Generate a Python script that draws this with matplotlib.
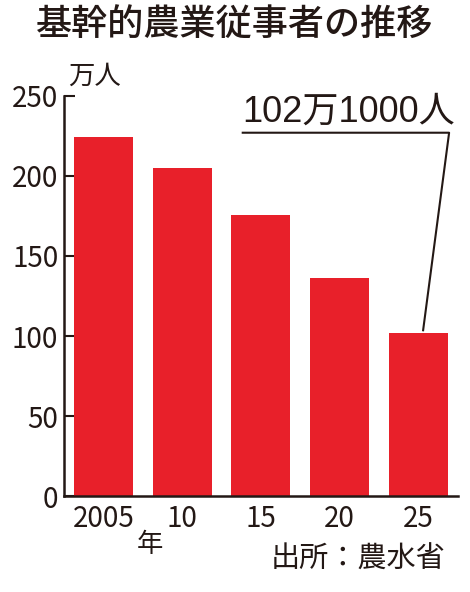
import matplotlib.pyplot as plt

plt.rcParams['font.family'] = ['Noto Sans CJK JP', 'DejaVu Sans']

years = ['2005', '10', '15', '20', '25']
workers = [224.1, 205.1, 175.4, 136.3, 102.1]  # 万人
y_ticks = [0, 50, 100, 150, 200, 250]
bar_color = '#E8202A'

fig = plt.figure(figsize=(4.70, 5.92), dpi=100)
ax = fig.add_axes([0.136, 0.162, 0.838, 0.676])

x = range(len(years))
ax.bar(x, workers, width=0.75, color=bar_color, zorder=2)

ax.set_xlim(-0.5, 4.5)
ax.set_ylim(0, 250)
ax.set_yticks(y_ticks)
ax.set_xticks(list(x))
ax.set_xticklabels(years)

for side in ['top', 'right']:
    ax.spines[side].set_visible(False)
for side in ['left', 'bottom']:
    ax.spines[side].set_linewidth(1.8)
    ax.spines[side].set_color('#231815')

ax.tick_params(axis='y', direction='in', length=8, width=1.5, labelsize=20,
               colors='#231815', pad=4)
ax.tick_params(axis='x', length=0, labelsize=20, colors='#231815', pad=6)

# title and unit labels
fig.text(0.5, 0.988, '基幹的農業従事者の推移', ha='center', va='top',
         fontsize=26, fontweight='medium', color='#231815')
fig.text(0.145, 0.848, '万人', ha='left', va='bottom', fontsize=19, color='#231815')
fig.text(0.292, 0.080, '年', ha='left', va='center', fontsize=19, color='#231815')
fig.text(0.948, 0.030, '出所：農水省', ha='right', va='bottom', fontsize=21,
         color='#231815')

# callout for the latest value
ax.text(4.47, 229, '102万1000人', ha='right', va='bottom', fontsize=26,
        family=['Liberation Sans', 'Noto Sans CJK JP'], color='#231815',
        clip_on=False)
ax.plot([1.77, 4.39, 4.06], [227, 227, workers[-1] + 1.5], color='#231815',
        linewidth=1.5, clip_on=False, zorder=3)

fig.savefig('out.png', dpi=100)
